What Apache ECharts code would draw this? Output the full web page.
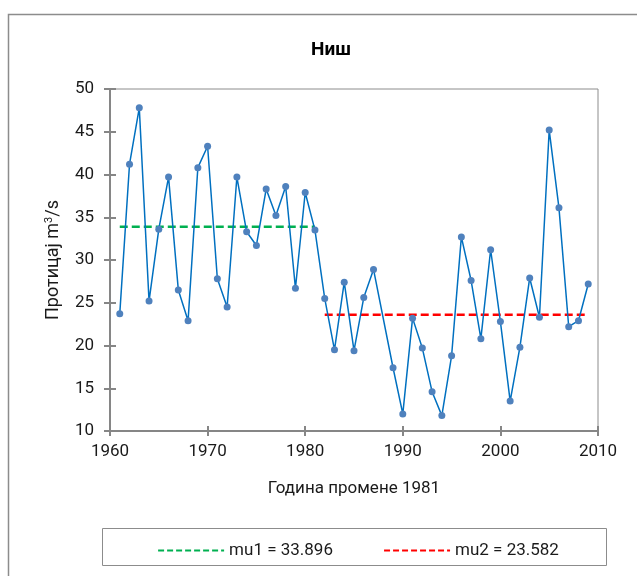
<!DOCTYPE html>
<html>
<head>
<meta charset="utf-8">
<script src="https://cdn.jsdelivr.net/npm/echarts@6/dist/echarts.min.js"></script>
<style>
html,body{margin:0;padding:0;background:#fff;}
#c{width:637px;height:576px;}
</style>
</head>
<body>
<div id="c"></div>
<script>
const years = [1961,1962,1963,1964,1965,1966,1967,1968,1969,1970,1971,1972,1973,1974,1975,1976,1977,1978,1979,1980,1981,1982,1983,1984,1985,1986,1987,1989,1990,1991,1992,1993,1994,1995,1996,1997,1998,1999,2000,2001,2002,2003,2004,2005,2006,2007,2008,2009];
const flows = [23.7,41.2,47.8,25.2,33.6,39.7,26.5,22.9,40.8,43.3,27.8,24.5,39.7,33.3,31.7,38.3,35.2,38.6,26.7,37.9,33.5,25.5,19.5,27.4,19.4,25.6,28.9,17.4,12.0,23.2,19.7,14.6,11.8,18.8,32.7,27.6,20.8,31.2,22.8,13.5,19.8,27.9,23.3,45.2,36.1,22.2,22.9,27.2];
const mu1Years = [1961, 1981];
const mu1Value = 33.896;
const mu2Years = [1982, 2009];
const mu2Value = 23.582;
const mu1Name = 'mu1 = 33.896';
const mu2Name = 'mu2 = 23.582';
const xTicks = {min: 1960, max: 2010, interval: 10};
const yTicks = {min: 10, max: 50, interval: 5};

const FONT = 'Roboto';
const TXT = '#1a1a1a';
const AX = '#868686';

const chart = echarts.init(document.getElementById('c'), null, {renderer: 'canvas'});
const gridPos = {left: 110, right: 39, top: 89, bottom: 145};

function xAx(gridIndex, inside, main) {
  return {
    type: 'value', gridIndex, min: xTicks.min, max: xTicks.max, interval: xTicks.interval,
    axisLine: {show: main, onZero: false, lineStyle: {color: AX, width: 2}},
    axisTick: {show: true, inside: inside, length: 5, lineStyle: {color: AX, width: 2}},
    axisLabel: {show: main, margin: 12, color: TXT, fontFamily: FONT, fontSize: 17, formatter: v => String(v)},
    splitLine: {show: false},
    name: main ? 'Година промене 1981' : '',
    nameLocation: 'middle', nameGap: 49,
    nameTextStyle: {color: TXT, fontFamily: FONT, fontSize: 17}
  };
}
function yAx(gridIndex, inside, main) {
  return {
    type: 'value', gridIndex, min: yTicks.min, max: yTicks.max, interval: yTicks.interval,
    axisLine: {show: main, onZero: false, lineStyle: {color: AX, width: 2}},
    axisTick: {show: true, inside: inside, length: 6, lineStyle: {color: AX, width: 2}},
    axisLabel: {show: main, margin: 16, color: TXT, fontFamily: FONT, fontSize: 17},
    splitLine: {show: false},
    name: main ? 'Протицај m{sup|3}/s' : '',
    nameLocation: 'middle', nameGap: 47, nameRotate: 90,
    nameTextStyle: {color: TXT, fontFamily: FONT, fontSize: 18,
      rich: {sup: {fontSize: 11, verticalAlign: 'top', color: TXT, fontFamily: FONT, padding: [0,0,8,0]}}}
  };
}

const option = {
  animation: false,
  backgroundColor: '#fff',
  title: {
    text: 'Ниш', left: 326, top: 36, textAlign: 'center',
    textStyle: {fontFamily: FONT, fontWeight: 'bold', fontSize: 19, color: '#000'}
  },
  graphic: [
    {type: 'rect', left: 6, top: 12, shape: {width: 700, height: 700}, style: {fill: 'none', stroke: '#8c8c8c', lineWidth: 1.5}, z: -1},
    {type: 'rect', left: 102, top: 528, shape: {width: 504, height: 37}, style: {fill: '#fff', stroke: '#8c8c8c', lineWidth: 1}, z: 0}
  ],
  legend: {
    data: [mu1Name, mu2Name],
    left: 152, top: 537,
    itemWidth: 66, itemHeight: 14, itemGap: 50,
    itemStyle: {opacity: 0},
    lineStyle: {width: 2.2, type: [6, 3]},
    textStyle: {fontFamily: FONT, fontSize: 17, color: TXT},
    z: 10
  },
  grid: [
    Object.assign({show: true, borderColor: '#8c8c8c', borderWidth: 1, backgroundColor: 'transparent'}, gridPos),
    Object.assign({show: false}, gridPos)
  ],
  xAxis: [xAx(0, false, true), xAx(1, true, false)],
  yAxis: [yAx(0, false, true), yAx(1, true, false)],
  series: [
    {
      name: 'flow', type: 'line', xAxisIndex: 0, yAxisIndex: 0,
      data: years.map((y, i) => [y, flows[i]]),
      symbol: 'circle', symbolSize: 7,
      lineStyle: {color: '#0070c0', width: 1.5},
      itemStyle: {color: '#4f81bd'},
      z: 3
    },
    {
      name: mu1Name, type: 'line', xAxisIndex: 0, yAxisIndex: 0,
      data: mu1Years.map(y => [y, mu1Value]),
      symbol: 'none', showSymbol: false,
      lineStyle: {color: '#00b050', width: 2.5, type: [8, 4]},
      itemStyle: {color: '#00b050'},
      z: 2
    },
    {
      name: mu2Name, type: 'line', xAxisIndex: 0, yAxisIndex: 0,
      data: mu2Years.map(y => [y, mu2Value]),
      symbol: 'none', showSymbol: false,
      lineStyle: {color: '#ff0000', width: 2.5, type: [8, 4]},
      itemStyle: {color: '#ff0000'},
      z: 2
    }
  ]
};
chart.setOption(option);
</script>
</body>
</html>
